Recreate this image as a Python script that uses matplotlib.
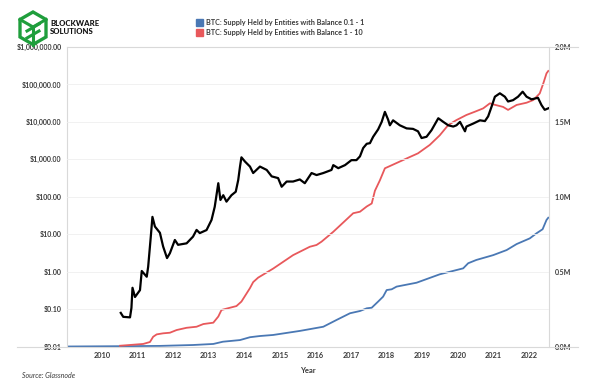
import matplotlib
matplotlib.use("Agg")
import matplotlib.pyplot as plt
from matplotlib.lines import Line2D
from matplotlib.patches import Polygon
import matplotlib.ticker as mticker

# ---------------- data (decimal years) ----------------
price_t = [2010.53, 2010.60, 2010.79, 2010.83, 2010.86, 2010.93, 2011.07, 2011.12, 2011.26, 2011.30,
           2011.37, 2011.42, 2011.49, 2011.63, 2011.72, 2011.83, 2011.91, 2012.05, 2012.14, 2012.38,
           2012.56, 2012.66, 2012.75, 2012.94, 2013.08, 2013.17, 2013.27, 2013.33, 2013.41, 2013.50,
           2013.64, 2013.76, 2013.83, 2013.88, 2013.92, 2014.02, 2014.16, 2014.25, 2014.44, 2014.63,
           2014.77, 2014.95, 2015.05, 2015.19, 2015.37, 2015.56, 2015.70, 2015.89, 2016.03, 2016.22,
           2016.45, 2016.50, 2016.64, 2016.83, 2017.01, 2017.15, 2017.25, 2017.34, 2017.44, 2017.53,
           2017.62, 2017.76, 2017.86, 2017.95, 2018.04, 2018.09, 2018.18, 2018.37, 2018.56, 2018.74,
           2018.88, 2018.98, 2019.12, 2019.26, 2019.45, 2019.59, 2019.73, 2019.87, 2019.96, 2020.06,
           2020.20, 2020.24, 2020.43, 2020.62, 2020.76, 2020.85, 2020.95, 2021.04, 2021.18, 2021.32,
           2021.41, 2021.55, 2021.69, 2021.82, 2021.93, 2022.07, 2022.25, 2022.35, 2022.44, 2022.54]
price_v = [0.079, 0.062, 0.06, 0.107, 0.37, 0.21, 0.32, 1.04, 0.73, 1.35,
           7.8, 29, 16, 10.9, 4.7, 2.3, 3.1, 7, 5.2, 5.7,
           8.6, 13, 10.7, 12.9, 24, 54, 230, 82, 110, 74,
           110, 136, 280, 640, 1130, 870, 640, 430, 640, 520,
           350, 315, 185, 255, 255, 290, 230, 430, 380, 430,
           520, 700, 580, 700, 950, 950, 1200, 2000, 2600, 2700,
           4000, 6300, 10000, 18500, 11500, 8100, 11000, 8100, 6700, 6500,
           5600, 3700, 4000, 6000, 12500, 10000, 8100, 7500, 8100, 10000,
           5600, 7500, 9000, 11000, 10500, 14000, 26000, 47000, 58000, 47000,
           35000, 38000, 47000, 64000, 47000, 40000, 44000, 28000, 21000, 23000]

red_t = [2010.51, 2011.16, 2011.35, 2011.44, 2011.54, 2011.72, 2011.91, 2012.10, 2012.38, 2012.66,
         2012.85, 2013.13, 2013.27, 2013.36, 2013.60, 2013.78, 2013.92, 2014.16, 2014.25, 2014.39,
         2014.81, 2015.37, 2015.84, 2016.03, 2016.17, 2016.50, 2017.06, 2017.25, 2017.44, 2017.58,
         2017.67, 2017.81, 2017.95, 2018.09, 2018.46, 2018.88, 2019.21, 2019.49, 2019.73, 2019.96,
         2020.24, 2020.48, 2020.71, 2020.90, 2020.99, 2021.27, 2021.41, 2021.65, 2021.93, 2022.12,
         2022.30, 2022.40, 2022.49, 2022.54]
red_v = [0.005, 0.017, 0.03, 0.065, 0.081, 0.088, 0.092, 0.11, 0.125, 0.132,
         0.15, 0.159, 0.20, 0.244, 0.259, 0.27, 0.30, 0.39, 0.43, 0.46,
         0.52, 0.61, 0.666, 0.678, 0.70, 0.766, 0.89, 0.90, 0.935, 0.955,
         1.04, 1.11, 1.19, 1.205, 1.245, 1.29, 1.346, 1.41, 1.479, 1.512,
         1.546, 1.568, 1.59, 1.624, 1.617, 1.60, 1.58, 1.613, 1.628, 1.646,
         1.69, 1.757, 1.824, 1.84]

blue_t = [2009.02, 2010.51, 2011.63, 2012.56, 2013.13, 2013.40, 2013.88, 2014.16, 2014.44, 2014.81,
          2015.56, 2016.22, 2016.59, 2016.97, 2017.25, 2017.44, 2017.58, 2017.76, 2017.90, 2018.00,
          2018.14, 2018.28, 2018.84, 2019.49, 2020.15, 2020.29, 2020.52, 2020.99, 2021.37, 2021.65,
          2022.02, 2022.21, 2022.38, 2022.49, 2022.54]
blue_v = [0.0, 0.002, 0.004, 0.01, 0.017, 0.032, 0.043, 0.062, 0.07, 0.077,
          0.104, 0.132, 0.177, 0.222, 0.237, 0.255, 0.259, 0.30, 0.333, 0.377,
          0.382, 0.40, 0.426, 0.482, 0.522, 0.556, 0.578, 0.61, 0.644, 0.684,
          0.722, 0.756, 0.783, 0.845, 0.86]

years = list(range(2010, 2023))
price_ticks = [0.01, 0.1, 1, 10, 100, 1000, 10000, 100000, 1000000]
price_labels = ["$0.01", "$0.10", "$1.00", "$10.00", "$100.00", "$1,000.00",
                "$10,000.00", "$100,000.00", "$1,000,000.00"]
supply_ticks = [0.0, 0.5, 1.0, 1.5, 2.0]
supply_labels = ["0.0M", "0.5M", "1.0M", "1.5M", "2.0M"]
legend_labels = ["BTC: Supply Held by Entities with Balance 0.1 - 1",
                 "BTC: Supply Held by Entities with Balance 1 - 10"]

BLUE = "#4a78b4"
RED = "#e8585b"
TXT = "#3a3a3a"
AXC = "#d9d9d9"

plt.rcParams['font.family'] = ['Lato', 'DejaVu Sans']

W, H = 600, 388
fig = plt.figure(figsize=(6, 3.88), dpi=100)
L, R, B, T = 67, 549, 346.5, 47
ax = fig.add_axes([L / W, 1 - B / H, (R - L) / W, (B - T) / H])
ax2 = ax.twinx()

# supply series (right axis, linear)
ax.plot(blue_t, blue_v, color=BLUE, lw=1.3, solid_joinstyle='round')
ax.plot(red_t, red_v, color=RED, lw=1.3, solid_joinstyle='round')
ax.set_ylim(0, 2.0)
ax.set_xlim(2009.02, 2022.56)
ax.yaxis.tick_right()
ax.set_yticks(supply_ticks)
ax.set_yticklabels(supply_labels)
ax.tick_params(axis='y', length=0, pad=4, labelsize=5, labelcolor=TXT)

# price (left axis, log)
ax2.plot(price_t, price_v, color="black", lw=1.6, solid_joinstyle='round')
ax2.set_yscale('log')
ax2.set_ylim(0.01, 1e6)
ax2.yaxis.tick_left()
ax2.yaxis.set_label_position('left')
ax2.set_yticks(price_ticks)
ax2.set_yticklabels(price_labels)
ax2.yaxis.set_minor_locator(mticker.NullLocator())
ax2.tick_params(axis='y', length=0, pad=4, labelsize=5, labelcolor=TXT)
for lab in ax2.get_yticklabels() + ax.get_yticklabels():
    lab.set_fontweight('bold')

ax.set_xticks(years)
ax.set_xticklabels([str(y) for y in years])
ax.tick_params(axis='x', length=0, pad=4, labelsize=5.3, labelcolor=TXT)
for lab in ax.get_xticklabels():
    lab.set_fontweight('bold')

# gridlines
for v in price_ticks[1:-1]:
    ax2.axhline(v, color="#efefef", lw=0.6, zorder=0)
ax2.set_zorder(ax.get_zorder() + 1)
ax2.patch.set_visible(False)

for a in (ax, ax2):
    for s in a.spines.values():
        s.set_visible(False)
ax.spines['left'].set_visible(True)
ax.spines['right'].set_visible(True)
ax.spines['left'].set_color(AXC)
ax.spines['right'].set_color(AXC)
ax.spines['left'].set_linewidth(0.8)
ax.spines['right'].set_linewidth(0.8)

# top / bottom frame lines in figure pixels
def fx(px): return px / W
def fy(py): return 1 - py / H
fig.add_artist(Line2D([fx(67), fx(578)], [fy(47), fy(47)], color=AXC, lw=0.8))
fig.add_artist(Line2D([fx(17), fx(578)], [fy(346.5), fy(346.5)], color=AXC, lw=0.8))

ax.set_xlabel("Year", fontsize=5.5, fontweight='bold', color=TXT, labelpad=6)

fig.text(fx(22), fy(375), "Source: Glassnode", fontsize=5, style='italic', color=TXT, va='center')

# legend
for i, (lab, c) in enumerate(zip(legend_labels, [BLUE, RED])):
    yy = 22 + i * 10
    fig.patches.append(Polygon([[fx(196), fy(yy - 3.5)], [fx(203), fy(yy - 3.5)],
                                [fx(203), fy(yy + 3.5)], [fx(196), fy(yy + 3.5)]],
                               closed=True, transform=fig.transFigure, color=c))
    fig.text(fx(206), fy(yy), lab, fontsize=5.2, fontweight='bold', color=TXT, va='center')

# logo
G = "#1f9e3c"
cx, cy = 33, 28
hexpts = [(cx, 12), (cx + 13, 19.5), (cx + 13, 37), (cx, 44.5), (cx - 13, 37), (cx - 13, 19.5)]
fig.patches.append(Polygon([[fx(x), fy(y)] for x, y in hexpts], closed=True,
                           transform=fig.transFigure, fill=False, edgecolor=G, lw=2.4,
                           joinstyle='miter'))
for seg in [[(cx - 13, 19.5), (cx, 27), (cx + 13, 19.5)], [(cx, 27), (cx, 44.5)],
            [(cx - 6, 31), (cx + 6, 24)], [(cx - 6, 38), (cx + 6, 31)]]:
    fig.add_artist(Line2D([fx(p[0]) for p in seg], [fy(p[1]) for p in seg], color=G, lw=2.2))
for txt, yy in (("BLOCKWARE", 23), ("SOLUTIONS", 31)):
    fig.text(fx(50), fy(yy), txt, fontsize=5.6, fontweight='black', color="#111111",
             va='center', family=['Lato', 'DejaVu Sans'])

fig.savefig("out.png", dpi=100)
